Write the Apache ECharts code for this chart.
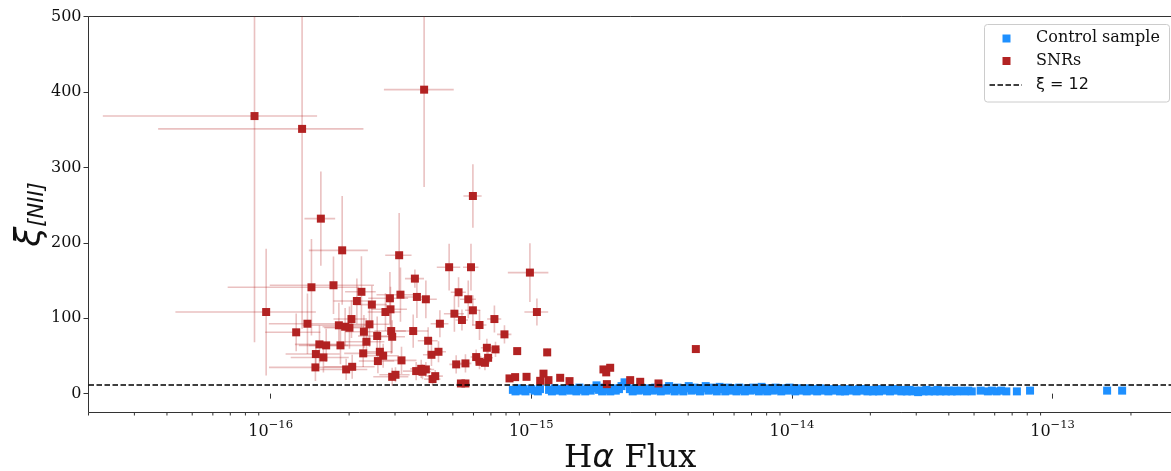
<!DOCTYPE html>
<html><head><meta charset="utf-8">
<script src="https://cdn.jsdelivr.net/npm/echarts@6/dist/echarts.min.js"></script>
<style>html,body{margin:0;padding:0;background:#fff}#c{width:1171px;height:471px}</style>
</head><body><div id="c"></div>
<script>
// ---------- data ----------
const X_MIN = 2.0e-17, X_MAX = 2.874e-13;
const Y_MIN = -25, Y_MAX = 500;
const THRESHOLD = 12;
const yTicks = [0, 100, 200, 300, 400, 500];

// SNRs: H-alpha flux, xi[NII], symmetric 1-sigma errors
const snrFlux = [8.67e-17,1.32e-16,3.88e-16,5.97e-16,1.558e-16,1.881e-16,3.112e-16,4.84e-16,5.87e-16,9.88e-16,
  1.434e-16,1.742e-16,3.576e-16,2.23e-16,9.61e-17,1.051e-15,2.142e-16,2.445e-16,2.868e-16,3.148e-16,
  3.64e-16,3.94e-16,5.26e-16,5.73e-16,2.757e-16,2.883e-16,5.07e-16,5.97e-16,5.42e-16,1.253e-16,
  1.384e-16,1.827e-16,1.931e-16,2.006e-16,2.042e-16,2.394e-16,2.279e-16,2.563e-16,2.901e-16,2.926e-16,
  3.523e-16,4.46e-16,6.33e-16,7.22e-16,7.89e-16,1.539e-16,1.633e-16,1.853e-16,2.331e-16,4.02e-16,
  1.491e-16,1.594e-16,2.265e-16,2.624e-16,2.702e-16,4.14e-16,4.405e-16,6.755e-16,7.29e-16,8.83e-16,
  1.151e-15,6.145e-16,6.83e-16,6.33e-16,6.64e-16,2.579e-16,3.177e-16,5.15e-16,5.59e-16,1.485e-16,
  1.948e-16,2.055e-16,3.617e-16,3.781e-16,3.94e-16,3.825e-16,2.926e-16,3.013e-16,4.18e-16,4.28e-16,
  5.37e-16,5.59e-16,8.25e-16,8.67e-16,9.59e-16,1.114e-15,1.082e-15,1.164e-15,1.291e-15,1.402e-15,
  1.892e-15,2.008e-15,1.939e-15,1.95e-15,2.396e-15,2.618e-15,3.077e-15,4.28e-15];
const snrXi = [368,351,403,262,232,190,183.5,167.6,167.6,160.5,
  141,143.7,152.5,135,108.2,108.2,122.8,118,126.4,131.2,
  128.2,125.1,134.4,125.1,108.2,111.8,106,110.5,97.6,81.3,
  92.7,90.6,88.7,87.4,98.9,91.9,82.1,76.4,83,75.4,
  83,92.7,91,98.9,78.6,65.3,64,64,68.8,70.1,
  52.5,48,53.4,55.5,50.2,51.5,55.5,60.8,58.7,56.4,
  54.7,48.5,47.5,42.2,40.9,43.2,44.1,38.8,40.1,34.8,
  32.1,35.6,29.9,32.9,32.1,29,22.3,25,19.3,23.2,
  13.5,13.5,20.2,21.9,22.3,26.5,17,17.9,21,16.6,
  32.1,34.3,28.2,12.6,17.9,15.7,13.5,59.1];
const snrFluxErr = [6.4e-17,9.5e-17,1.16e-16,4.8e-17,2.1e-17,4.8e-17,3.6e-17,5.0e-17,4.0e-17,1.75e-16,
  7.5e-17,7.5e-17,3.0e-17,3.0e-17,5.3e-17,1.1e-16,4.0e-17,3.5e-17,5.0e-17,6.0e-17,
  4.5e-17,4.0e-17,3.5e-17,4.0e-17,4.0e-17,4.5e-17,4.5e-17,4.0e-17,3.0e-17,3.0e-17,
  4.0e-17,5.0e-17,3.5e-17,4.0e-17,3.0e-17,4.5e-17,3.5e-17,4.0e-17,4.0e-17,3.5e-17,
  5.0e-17,3.5e-17,4.0e-17,4.5e-17,5.0e-17,3.0e-17,3.5e-17,4.5e-17,4.0e-17,3.5e-17,
  3.5e-17,4.0e-17,3.5e-17,3.0e-17,4.0e-17,3.0e-17,3.0e-17,3.5e-17,3.0e-17,2.0e-17,
  2.5e-17,3.0e-17,3.0e-17,2.5e-17,3.0e-17,4.0e-17,4.5e-17,3.0e-17,3.0e-17,5.0e-17,
  4.0e-17,4.5e-17,4.0e-17,3.5e-17,3.0e-17,3.0e-17,4.5e-17,4.0e-17,3.0e-17,3.0e-17,
  2.0e-17,2.0e-17,2.0e-17,2.0e-17,2.0e-17,2.0e-17,2.0e-17,2.0e-17,2.0e-17,2.0e-17,
  3.0e-17,3.0e-17,3.0e-17,2.0e-17,2.0e-17,2.0e-17,2.0e-17,3.0e-17];
const snrXiErr = [300,265,129,42,62.5,72,56,31,31,39,
  64,38,12,47,84,18,30,25,35,36,
  28,25,20,25,25,30,24,20,14,25,
  40,30,25,28,25,30,22,26,30,22,
  22,18,20,18,12,25,22,25,20,18,
  18,20,18,18,16,15,14,12,10,4,
  5,10,12,10,10,16,18,12,12,18,
  14,16,12,12,10,10,12,10,8,8,
  5,5,4,4,4,4,4,4,3,3,
  4,4,4,3,3,3,3,3];

// Control sample: H-alpha flux, xi[NII]
const controlFlux = [0.85e-15,0.87e-15,0.89e-15,0.91e-15,0.93e-15,0.95e-15,1.00e-15,1.03e-15,1.06e-15,1.08e-15,
  1.17e-15,1.20e-15,1.23e-15,1.26e-15,1.29e-15,1.32e-15,1.35e-15,1.39e-15,1.42e-15,1.46e-15,
  1.49e-15,1.53e-15,1.57e-15,1.61e-15,1.65e-15,1.69e-15,1.73e-15,1.78e-15,1.82e-15,1.87e-15,
  1.91e-15,1.96e-15,2.01e-15,2.06e-15,2.11e-15,2.17e-15,2.22e-15,2.28e-15,2.33e-15,2.39e-15,
  2.45e-15,2.51e-15,2.58e-15,2.64e-15,2.71e-15,2.78e-15,2.85e-15,2.92e-15,2.99e-15,3.06e-15,
  3.14e-15,3.22e-15,3.30e-15,3.38e-15,3.47e-15,3.55e-15,3.64e-15,3.73e-15,3.83e-15,3.92e-15,
  4.02e-15,4.12e-15,4.23e-15,4.33e-15,4.44e-15,4.55e-15,4.67e-15,4.78e-15,4.90e-15,5.03e-15,
  5.15e-15,5.28e-15,5.41e-15,5.55e-15,5.69e-15,5.83e-15,5.98e-15,6.13e-15,6.28e-15,6.44e-15,
  6.60e-15,6.76e-15,6.93e-15,7.11e-15,7.28e-15,7.47e-15,7.65e-15,7.85e-15,8.04e-15,8.24e-15,
  8.45e-15,8.66e-15,8.88e-15,9.10e-15,9.33e-15,9.56e-15,9.80e-15,10.0e-15,10.3e-15,10.6e-15,
  10.8e-15,11.1e-15,11.4e-15,11.6e-15,11.9e-15,12.2e-15,12.5e-15,12.8e-15,13.2e-15,13.5e-15,
  13.8e-15,14.2e-15,14.5e-15,14.9e-15,15.3e-15,15.6e-15,16.0e-15,16.4e-15,16.8e-15,17.3e-15,
  17.7e-15,18.1e-15,18.6e-15,19.1e-15,19.5e-15,20.0e-15,20.5e-15,21.0e-15,21.6e-15,22.1e-15,
  22.7e-15,23.2e-15,23.8e-15,24.4e-15,25.0e-15,25.6e-15,26.3e-15,26.9e-15,27.6e-15,28.3e-15,
  29.0e-15,29.7e-15,30.5e-15,31.2e-15,32.0e-15,32.8e-15,33.6e-15,34.5e-15,35.3e-15,36.2e-15,
  37.1e-15,38.1e-15,39.0e-15,40.0e-15,41.0e-15,42.0e-15,43.0e-15,44.5e-15,46.0e-15,47.5e-15,
  49.0e-15,53.0e-15,56.5e-15,58.5e-15,61.0e-15,63.5e-15,66.5e-15,73.0e-15,82.0e-15,162e-15,185e-15];
const controlXi = [5,3,7,4,6,3,6,4,3,6,
  5,3,7,4,6,3,5,7,4,6,
  3,8,5,3,6,4,7,11,5,3,
  8,5,3,7,4,6,10,15,14,6,
  3,7,4,8,5,3,7,4,8,5,
  3,7,4,10,6,3,8,5,3,7,
  10,4,8,5,3,7,10,4,8,5,
  3,9,6,3,8,4,7,3,8,5,
  3,7,4,8,5,3,9,5,3,7,
  4,8,5,3,7,4,8,5,3,7,
  4,6,3,7,4,6,3,7,4,6,
  3,6,4,6,3,5,3,6,4,5,
  3,6,4,6,3,5,3,5,3,6,
  4,5,3,6,4,5,3,5,3,5,
  3,4,2,4,3,5,3,4,3,5,
  3,4,3,4,3,4,3,4,3,4,
  3,4,3,4,3,4,3,3,4,4,4];

// minor tick mantissas / decades for the log axis
const minorMantissas = [2,3,4,5,6,7,8,9];
const minorDecades = [-17,-16,-15,-14,-13];

// ---------- build ----------
const SERIF = '"DejaVu Serif", serif';
const SANS = '"DejaVu Sans", sans-serif';
const minorTickData = [];
minorDecades.forEach(d => minorMantissas.forEach(m => {
  const v = m * Math.pow(10, d);
  if (v >= X_MIN && v <= X_MAX) minorTickData.push([v, Y_MIN]);
}));
const snrData = snrFlux.map((f, i) => [f, snrXi[i]]);
const errData = snrFlux.map((f, i) => [f, snrXi[i], snrFluxErr[i], snrXiErr[i]]);
const controlData = controlFlux.map((f, i) => [f, controlXi[i]]);

const chart = echarts.init(document.getElementById('c'), null, {renderer: 'canvas'});
chart.setOption({
  animation: false,
  backgroundColor: '#ffffff',
  grid: {left: 88.5, top: 16.5, right: -1, bottom: 58.5, show: true,
         outerBoundsMode: 'none', containLabel: false,
         borderColor: '#333', borderWidth: 1, backgroundColor: 'transparent'},
  xAxis: {
    type: 'log', logBase: 10, min: X_MIN, max: X_MAX,
    axisLine: {show: false},
    axisTick: {show: true, length: 5, lineStyle: {color: '#333', width: 1}},
    splitLine: {show: false},
    axisLabel: {
      margin: 7, showMinLabel: false, showMaxLabel: false, lineHeight: 20,
      formatter: function (v) {
        const e = Math.log10(v), r = Math.round(e);
        if (Math.abs(e - r) > 1e-6) return '';
        return '{b|10}{s|' + (r < 0 ? '\u2212' + (-r) : r) + '}';
      },
      rich: {
        b: {fontFamily: SERIF, fontSize: 16, color: '#111', lineHeight: 20, verticalAlign: 'bottom'},
        s: {fontFamily: SERIF, fontSize: 11.5, color: '#111', lineHeight: 12, verticalAlign: 'top'}
      }
    },
    name: '{r|H}{a|\u03b1}{r| Flux}', nameLocation: 'middle', nameGap: 29, nameMoveOverlap: false,
    nameTextStyle: {lineHeight: 34, rich: {
      r: {fontFamily: SERIF, fontSize: 32.5, color: '#111', lineHeight: 34},
      a: {fontFamily: SANS, fontStyle: 'italic', fontSize: 32.5, color: '#111', lineHeight: 34}
    }}
  },
  yAxis: {
    type: 'value', min: Y_MIN, max: Y_MAX, splitNumber: 5,
    axisLine: {show: false},
    axisTick: {show: true, length: 5, lineStyle: {color: '#333', width: 1}},
    splitLine: {show: false},
    axisLabel: {margin: 7, showMinLabel: false, fontFamily: SERIF, fontSize: 16, color: '#111',
      formatter: v => (yTicks.indexOf(v) >= 0 ? String(v) : '')},
    name: '{x|\u03be}{s|[NII]}', nameLocation: 'middle', nameRotate: 90, nameGap: 40, nameMoveOverlap: false,
    nameTextStyle: {rich: {
      x: {fontFamily: SANS, fontStyle: 'italic', fontSize: 36, color: '#111'},
      s: {fontFamily: SANS, fontStyle: 'italic', fontSize: 21, color: '#111', verticalAlign: 'bottom'}
    }}
  },
  series: [
    {
      name: 'Control sample', type: 'scatter', data: controlData, symbol: 'rect', symbolSize: 8,
      itemStyle: {color: '#1e90ff', opacity: 1}, z: 2, silent: true
    },
    {
      name: 'SNR errors', type: 'custom', data: errData, clip: true, z: 3, silent: true,
      encode: {x: 0, y: 1},
      renderItem: function (params, api) {
        const x = api.value(0), y = api.value(1), ex = api.value(2), ey = api.value(3);
        const st = {stroke: 'rgba(178,34,34,0.28)', lineWidth: 1.6};
        const h1 = api.coord([Math.max(x - ex, 1e-20), y]), h2 = api.coord([x + ex, y]);
        const v1 = api.coord([x, y - ey]), v2 = api.coord([x, y + ey]);
        return {type: 'group', children: [
          {type: 'line', shape: {x1: h1[0], y1: h1[1], x2: h2[0], y2: h2[1]}, style: st},
          {type: 'line', shape: {x1: v1[0], y1: v1[1], x2: v2[0], y2: v2[1]}, style: st}
        ]};
      }
    },
    {
      name: 'SNRs', type: 'scatter', data: snrData, symbol: 'rect', symbolSize: 8,
      itemStyle: {color: '#b22222', opacity: 1}, z: 4, silent: true
    },
    {
      name: '\u03be = 12', type: 'line', data: [], z: 5, silent: true,
      markLine: {silent: true, symbol: 'none', label: {show: false},
        lineStyle: {color: '#000', width: 1.5, type: [5.5, 2.5]},
        data: [{yAxis: THRESHOLD}]}
    },
    {
      name: 'minor ticks', type: 'custom', data: minorTickData, silent: true, clip: false, z: 6,
      encode: {x: 0, y: 1},
      renderItem: function (params, api) {
        const p = api.coord([api.value(0), api.value(1)]);
        return {type: 'line', shape: {x1: p[0], y1: p[1], x2: p[0], y2: p[1] + 3},
          style: {stroke: '#333', lineWidth: 1}};
      }
    }
  ],
  graphic: [
    {type: 'rect', shape: {x: 984.5, y: 24.5, width: 185, height: 77.5, r: 3},
     style: {fill: 'rgba(255,255,255,0.8)', stroke: '#cccccc', lineWidth: 1}, z: 100},
    {type: 'rect', shape: {x: 1002.5, y: 34.5, width: 8, height: 8}, style: {fill: '#1e90ff'}, z: 101},
    {type: 'rect', shape: {x: 1002.5, y: 57, width: 8, height: 8}, style: {fill: '#b22222'}, z: 101},
    {type: 'line', shape: {x1: 989.5, y1: 85, x2: 1022, y2: 85},
     style: {stroke: '#000', lineWidth: 1.5, lineDash: [5.5, 2.5]}, z: 101},
    {type: 'text', x: 1036, y: 38, z: 101,
     style: {text: 'Control sample', fontFamily: SERIF, fontSize: 16, fill: '#111', verticalAlign: 'middle'}},
    {type: 'text', x: 1036, y: 61, z: 101,
     style: {text: 'SNRs', fontFamily: SERIF, fontSize: 16, fill: '#111', verticalAlign: 'middle'}},
    {type: 'text', x: 1036, y: 85, z: 101,
     style: {text: '\u03be = 12', fontFamily: SANS, fontSize: 16, fill: '#111', verticalAlign: 'middle'}}
  ]
});
</script>
</body></html>
